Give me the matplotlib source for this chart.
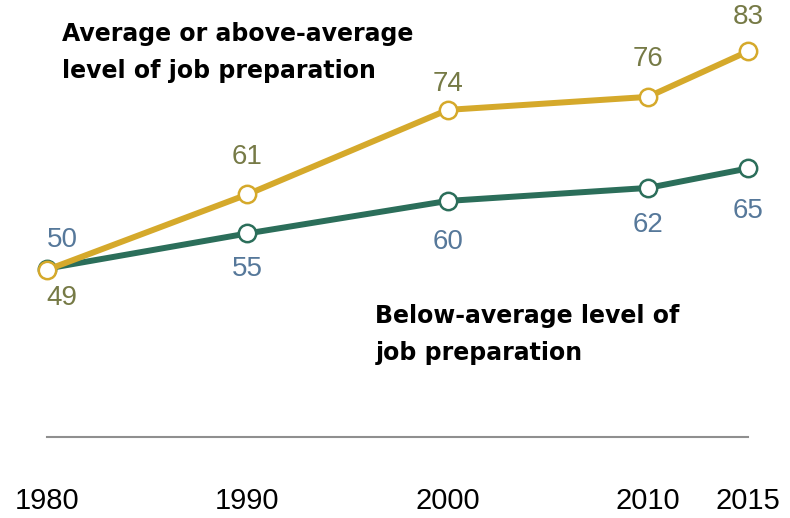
import numpy as np
import matplotlib
matplotlib.use('Agg')
import matplotlib.pyplot as plt

# data (1980 points are drawn nearly on top of each other in the source)
years = [1980, 1990, 2000, 2010, 2015]
above_avg = [49.4, 61, 74, 76, 83]
below_avg = [49.6, 55, 60, 62, 65]
tick_labels = ['1980', '1990', '2000', '2010', '2015']

gold = '#D5A92B'
green = '#2B6E5A'
gold_txt = '#767A46'
green_txt = '#56789A'

plt.rcParams['font.family'] = ['Liberation Sans', 'DejaVu Sans']

fig = plt.figure(figsize=(7.9, 5.18), dpi=100)
ax = fig.add_axes([47/790, 1-437/518, (748-47)/790, 437/518])

ax.plot(years, below_avg, color=green, lw=4.3, marker='o', ms=12.5,
        mfc='white', mec=green, mew=1.8, clip_on=False, zorder=3)
ax.plot(years, above_avg, color=gold, lw=4.3, marker='o', ms=12.5,
        mfc='white', mec=gold, mew=1.8, clip_on=False, zorder=4)

# value labels, offsets in pixels
gold_off = [(15, -28), (0, 37), (0, 26), (0, 38), (0, 34)]
green_off = [(15, 29), (0, -36), (0, -41), (0, -37), (0, -43)]
for x, v, (dx, dy) in zip(years, above_avg, gold_off):
    ax.annotate('%d' % round(v), (x, v), xytext=(dx, dy), textcoords='offset pixels',
                ha='center', va='center', fontsize=20, color=gold_txt)
for x, v, (dx, dy) in zip(years, below_avg, green_off):
    ax.annotate('%d' % round(v), (x, v), xytext=(dx, dy), textcoords='offset pixels',
                ha='center', va='center', fontsize=20, color=green_txt)

ax.text(1980.75, 82.8, 'Average or above-average\nlevel of job preparation',
        fontsize=17, fontweight='bold', ha='left', va='center',
        linespacing=1.7, color='black', family='DejaVu Sans')
ax.text(1996.4, 39.5, 'Below-average level of\njob preparation',
        fontsize=17, fontweight='bold', ha='left', va='center',
        linespacing=1.7, color='black', family='DejaVu Sans')

ax.set_xlim(1980, 2015)
ax.set_ylim(23.7, 90.9)
ax.set_xticks(years)
ax.set_xticklabels(tick_labels, fontsize=21)
ax.set_yticks([])
ax.tick_params(axis='x', length=0, pad=36)
for s in ['top', 'left', 'right']:
    ax.spines[s].set_visible(False)
ax.spines['bottom'].set_color('#8f8f8f')
ax.spines['bottom'].set_linewidth(1.5)
ax.patch.set_alpha(0)

fig.savefig('out.png', dpi=100)
